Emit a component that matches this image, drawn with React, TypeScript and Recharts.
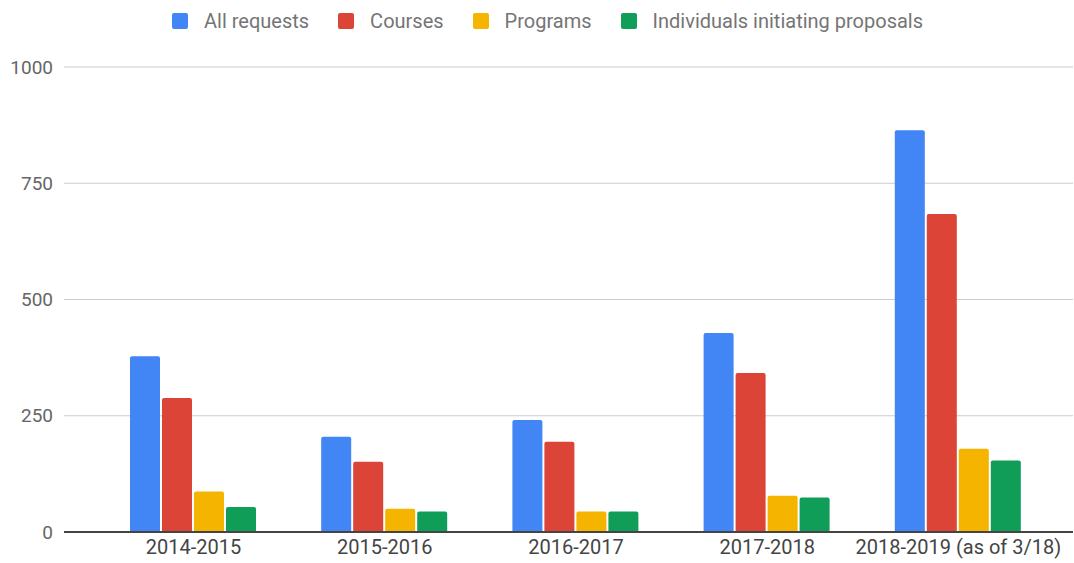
import React from 'react'
import { Bar, BarChart, CartesianGrid, Legend, XAxis, YAxis } from 'recharts'

const years = ['2014-2015', '2015-2016', '2016-2017', '2017-2018', '2018-2019 (as of 3/18)']
const allRequests = [378, 205, 241, 428, 864]
const courses = [288, 151, 194, 342, 684]
const programs = [87, 50, 44, 78, 179]
const individuals = [54, 44, 44, 74, 154]
const yTicks = [0, 250, 500, 750, 1000]

const series = [
  { key: 'all', name: 'All requests', color: '#4285F4' },
  { key: 'courses', name: 'Courses', color: '#DB4437' },
  { key: 'programs', name: 'Programs', color: '#F4B400' },
  { key: 'individuals', name: 'Individuals initiating proposals', color: '#0F9D58' }
]

const data = years.map((year, i) => ({
  year,
  all: allRequests[i],
  courses: courses[i],
  programs: programs[i],
  individuals: individuals[i]
}))

const FONT = 'Roboto, "Noto Sans", sans-serif'

const MyLegend = () => (
  <div style={{ display: 'flex', justifyContent: 'center', gap: 29, paddingLeft: 22, fontFamily: FONT, fontSize: 20, color: '#757575', height: 30 }}>
    {series.map(s => (
      <div key={s.key} style={{ display: 'flex', alignItems: 'center' }}>
        <span style={{ width: 16, height: 16, borderRadius: 2, background: s.color, display: 'inline-block', marginRight: 16 }} />
        <span>{s.name}</span>
      </div>
    ))}
  </div>
)

const App = () => {
  return (
    <div style={{ position: 'absolute', left: 0, top: 0 }}>
      <BarChart
        width={1074}
        height={563}
        data={data}
        margin={{ top: 37, right: 1, left: 0, bottom: 0 }}
        barGap={2}
        barCategoryGap={32}
      >
        <CartesianGrid vertical={false} stroke="#cccccc" />
        <Legend verticalAlign="top" align="center" wrapperStyle={{ top: 6 }} content={<MyLegend />} />
        <XAxis
          dataKey="year"
          height={31}
          padding={{ left: 34, right: 19 }}
          tickLine={false}
          axisLine={{ stroke: '#444444', strokeWidth: 2 }}
          tick={{ fill: '#444444', fontSize: 20, fontFamily: FONT }}
          tickMargin={2}
        />
        <YAxis
          width={64}
          domain={[0, 1000]}
          ticks={yTicks}
          tickLine={false}
          axisLine={false}
          tickMargin={5}
          tick={{ fill: '#666666', fontSize: 19, fontFamily: FONT }}
        />
        {series.map(s => (
          <Bar key={s.key} dataKey={s.key} name={s.name} fill={s.color} radius={[2, 2, 0, 0]} isAnimationActive={false} />
        ))}
      </BarChart>
    </div>
  )
}

export default App
